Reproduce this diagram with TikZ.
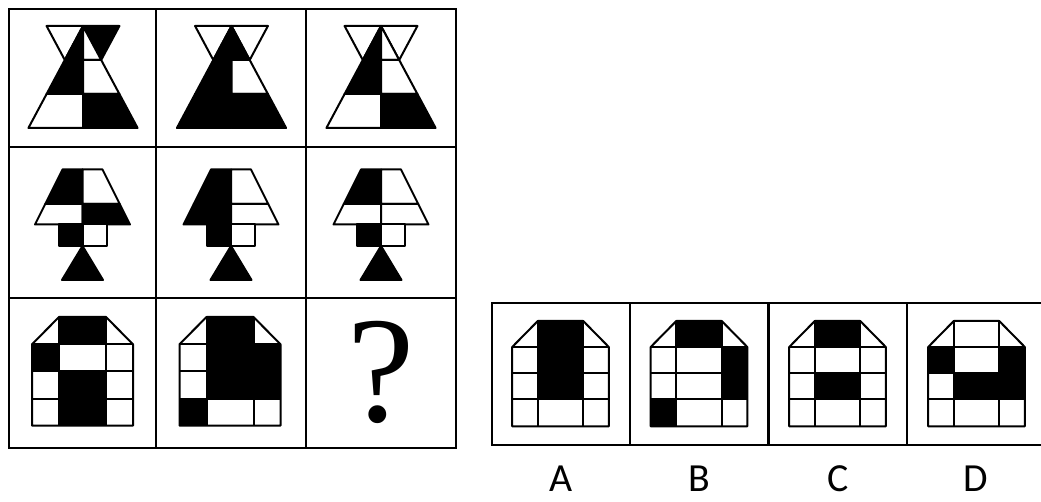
\documentclass[tikz,border=0pt]{standalone}
\usepackage{fontspec}
\setmainfont{Liberation Serif}
\newfontfamily\labelfont{Carlito}
\tikzset{
  shp/.style={line width=2bp, line join=round},
  grd/.style={line width=2.2bp},
  lbl/.style={font=\labelfont\fontsize{40}{42}\selectfont, inner sep=0pt, anchor=base},
}
% hourglass: c, IL, IR, BL1, BR1, BL2, BR2, BL3, BR3
\newcommand\hourglass[9]{%
 \begin{scope}[shp]
 \filldraw[fill=#2] ({#1-36.4},26) -- (#1,26) -- ({#1-18.2},60) -- cycle;
 \filldraw[fill=#3] (#1,26) -- ({#1+36.4},26) -- ({#1+18.2},60) -- cycle;
 \filldraw[fill=#4] (#1,26) -- ({#1-18.2},60) -- (#1,60) -- cycle;
 \filldraw[fill=#5] (#1,26) -- ({#1+18.2},60) -- (#1,60) -- cycle;
 \filldraw[fill=#6] ({#1-18.2},60) -- (#1,60) -- (#1,94) -- ({#1-36.4},94) -- cycle;
 \filldraw[fill=#7] (#1,60) -- ({#1+18.2},60) -- ({#1+36.4},94) -- (#1,94) -- cycle;
 \filldraw[fill=#8] ({#1-36.4},94) -- (#1,94) -- (#1,128) -- ({#1-54.6},128) -- cycle;
 \filldraw[fill=#9] (#1,94) -- ({#1+36.4},94) -- ({#1+54.6},128) -- (#1,128) -- cycle;
 \end{scope}}
% lamp: c, S1L, S1R, S2L, S2R, StL, StR, foot
\newcommand\lamp[8]{%
 \begin{scope}[shp]
 \filldraw[fill=#2] ({#1-20},169.5) -- (#1,169.5) -- (#1,204) -- ({#1-37.25},204) -- cycle;
 \filldraw[fill=#3] (#1,169.5) -- ({#1+20},169.5) -- ({#1+37.25},204) -- (#1,204) -- cycle;
 \filldraw[fill=#4] ({#1-37.25},204) -- (#1,204) -- (#1,224.5) -- ({#1-47.5},224.5) -- cycle;
 \filldraw[fill=#5] (#1,204) -- ({#1+37.25},204) -- ({#1+47.5},224.5) -- (#1,224.5) -- cycle;
 \filldraw[fill=#6] ({#1-24},224.5) rectangle (#1,246);
 \filldraw[fill=#7] (#1,224.5) rectangle ({#1+24},246);
 \filldraw[fill=#8] (#1,246) -- ({#1+20.5},280) -- ({#1-20.5},280) -- cycle;
 \end{scope}}
% house geometry: c, half width, inner half, y0..y4
\newcommand\housegeom[8]{%
 \pgfmathsetmacro\hxa{#1-#2}\pgfmathsetmacro\hxb{#1-#3}%
 \pgfmathsetmacro\hxc{#1+#3}\pgfmathsetmacro\hxd{#1+#2}%
 \def\hya{#4}\def\hyb{#5}\def\hyc{#6}\def\hyd{#7}\def\hye{#8}}
\newcommand\housecell[2]{%
 \ifnum#1=0\relax
   \ifcase#2\relax
     \fill (\hxa,\hyb) -- (\hxb,\hya) -- (\hxb,\hyb) -- cycle;
   \or
     \fill (\hxb,\hya) rectangle (\hxc,\hyb);
   \or
     \fill (\hxc,\hya) -- (\hxd,\hyb) -- (\hxc,\hyb) -- cycle;
   \fi
 \else
   \ifcase#1\relax\or
     \def\hyt{\hyb}\def\hyu{\hyc}\or
     \def\hyt{\hyc}\def\hyu{\hyd}\or
     \def\hyt{\hyd}\def\hyu{\hye}\fi
   \ifcase#2\relax
     \def\hxl{\hxa}\def\hxr{\hxb}\or
     \def\hxl{\hxb}\def\hxr{\hxc}\or
     \def\hxl{\hxc}\def\hxr{\hxd}\fi
   \fill (\hxl,\hyt) rectangle (\hxr,\hyu);
 \fi}
\newcommand\drawhouse[1]{%
 \foreach \r/\k in {#1}{\housecell{\r}{\k}}
 \draw[shp] (\hxa,\hyb) -- (\hxb,\hya) -- (\hxc,\hya) -- (\hxd,\hyb) -- (\hxd,\hye) -- (\hxa,\hye) -- cycle;
 \draw[shp] (\hxa,\hyb) -- (\hxd,\hyb) (\hxa,\hyc) -- (\hxd,\hyc) (\hxa,\hyd) -- (\hxd,\hyd)
   (\hxb,\hya) -- (\hxb,\hye) (\hxc,\hya) -- (\hxc,\hye);}
\begin{document}
\begin{tikzpicture}[x=1bp, y=-1bp]
\useasboundingbox (0,0) rectangle (1041,502);
\fill[white] (0,0) rectangle (1041,502);
\clip (0,0) rectangle (1041,502);
% main grid
\draw[grd] (9,9) rectangle (456,448);
\draw[grd] (156,9) -- (156,448) (306,9) -- (306,448) (9,147) -- (456,147) (9,298) -- (456,298);
% row 1
\hourglass{83}{white}{black}{black}{white}{black}{white}{white}{black}
\hourglass{231.5}{white}{white}{black}{black}{black}{white}{black}{black}
\hourglass{381}{white}{white}{black}{white}{black}{white}{white}{black}
% row 2
\lamp{82.5}{black}{white}{white}{black}{black}{white}{black}
\lamp{231}{black}{white}{black}{white}{black}{white}{black}
\lamp{381}{black}{white}{white}{white}{black}{white}{black}
% row 3
\housegeom{82.5}{50.5}{23.5}{317}{344.3}{371}{399}{425.7}
\drawhouse{0/1,1/0,2/1,3/1}
\housegeom{230}{50.5}{23.5}{317}{344.3}{371}{399}{425.7}
\drawhouse{0/1,1/1,1/2,2/1,2/2,3/0}
\node[font=\fontsize{152}{160}\selectfont, inner sep=0pt, anchor=base] (q) at (381,421) {?};
% options
\draw[grd] (1050,303) -- (492,303) -- (492,445) -- (1050,445);
\draw[grd] (630,303) -- (630,445) (768.5,303) -- (768.5,445) (907,303) -- (907,445);
\housegeom{560.5}{48.3}{22.7}{321}{347}{372.7}{399.3}{426.3}
\drawhouse{0/1,1/1,2/1}
\housegeom{699}{48.3}{22.7}{321}{347}{372.7}{399.3}{426.3}
\drawhouse{0/1,1/2,2/2,3/0}
\housegeom{837.5}{48.3}{22.7}{321}{347}{372.7}{399.3}{426.3}
\drawhouse{0/1,2/1}
\housegeom{976.5}{48.3}{22.7}{321}{347}{372.7}{399.3}{426.3}
\drawhouse{1/0,1/2,2/1,2/2}
\node[lbl] (la) at (561,491) {A};
\node[lbl] (lb) at (699,491) {B};
\node[lbl] (lc) at (838,491) {C};
\node[lbl] (ld) at (976,491) {D};
\end{tikzpicture}
\end{document}
